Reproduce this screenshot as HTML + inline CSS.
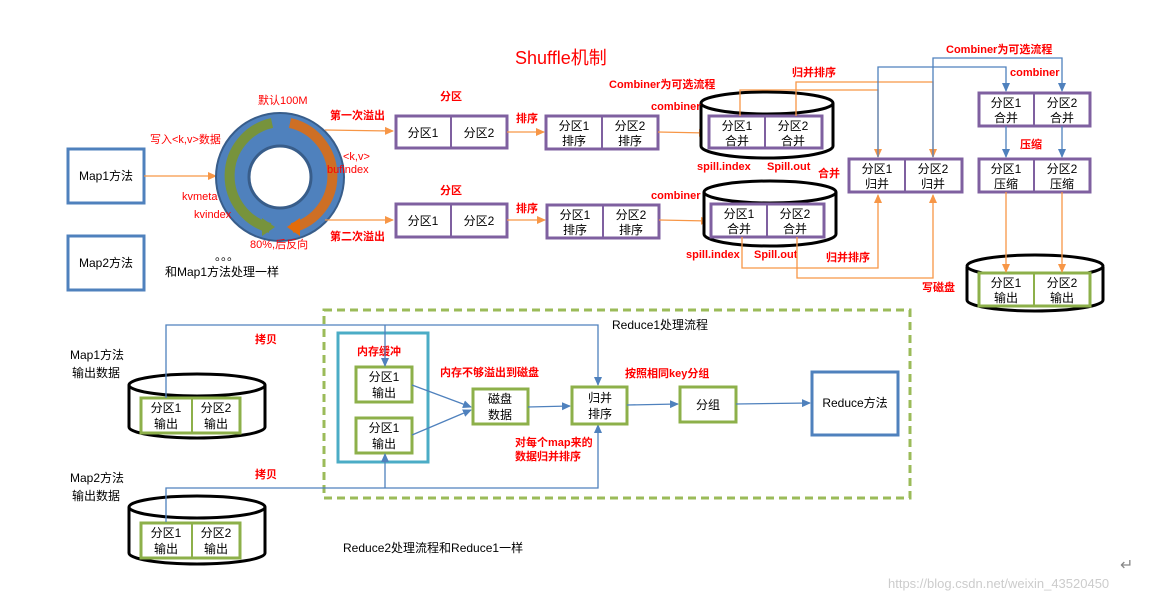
<!DOCTYPE html>
<html><head><meta charset="utf-8"><style>
body{margin:0;background:#fff;}
svg{display:block;font-family:"Liberation Sans","Noto Sans CJK SC",sans-serif;}
.r{fill:#f00;font-weight:bold;font-size:11px;}
.rn{fill:#f00;font-size:11px;}
.t{fill:#000;font-size:12px;}
.pb{fill:#fff;stroke:#7f60a0;stroke-width:3;}
.gb{fill:#fff;stroke:#8db04a;stroke-width:3;}
.o{stroke:#f79646;stroke-width:1.3;fill:none;}
.b{stroke:#4f81bd;stroke-width:1.3;fill:none;}
</style></head><body>
<svg width="1169" height="602" viewBox="0 0 1169 602">
<defs>
<marker id="ao" markerWidth="10" markerHeight="10" refX="8" refY="5" orient="auto" markerUnits="userSpaceOnUse"><path d="M0,1 L9,5 L0,9z" fill="#f79646"/></marker>
<marker id="ab" markerWidth="10" markerHeight="10" refX="8" refY="5" orient="auto" markerUnits="userSpaceOnUse"><path d="M0,1 L9,5 L0,9z" fill="#4f81bd"/></marker>
</defs>
<text x="515" y="64" fill="#f00" font-size="18">Shuffle机制</text>
<!-- maps -->
<rect x="68" y="149" width="76" height="54" fill="#fff" stroke="#4f81bd" stroke-width="3"/>
<text x="106" y="180" class="t" text-anchor="middle" font-size="11">Map1方法</text>
<rect x="68" y="236" width="76" height="54" fill="#fff" stroke="#4f81bd" stroke-width="3"/>
<text x="106" y="267" class="t" text-anchor="middle" font-size="11">Map2方法</text>
<line x1="144" y1="176" x2="216" y2="176" class="o" marker-end="url(#ao)"/>
<text x="150" y="143" class="rn">写入&lt;k,v&gt;数据</text>
<!-- ring -->
<circle cx="280" cy="177" r="64" fill="#4f81bd" stroke="#385d8a" stroke-width="2"/>
<circle cx="280" cy="177" r="31" fill="#fff" stroke="#385d8a" stroke-width="3"/>
<path d="M272,123 A54,54 0 0 0 270,228" stroke="#77933c" stroke-width="10" fill="none"/>
<path d="M262,218 L275,227 L262,236z" fill="#77933c"/>
<path d="M290,123 A54,54 0 0 1 292,228" stroke="#e46c0a" stroke-width="10" fill="none" opacity="0.85"/>
<path d="M300,218 L287,227 L300,236z" fill="#e46c0a"/>
<text x="258" y="104" class="rn">默认100M</text>
<text x="182" y="200" class="rn">kvmeta</text>
<text x="194" y="218" class="rn">kvindex</text>
<text x="343" y="160" class="rn" font-size="9">&lt;k,v&gt;</text>
<text x="327" y="173" class="rn">bufindex</text>
<text x="250" y="248" class="rn">80%,后反向</text>
<text x="215" y="260" class="t">。。。</text>
<text x="165" y="276" class="t">和Map1方法处理一样</text>
<!-- spills -->
<line x1="325" y1="130" x2="393" y2="131" class="o" marker-end="url(#ao)"/>
<line x1="325" y1="220" x2="393" y2="220" class="o" marker-end="url(#ao)"/>
<text x="330" y="119" class="r">第一次溢出</text>
<text x="330" y="240" class="r">第二次溢出</text>
<text x="440" y="100" class="r">分区</text>
<text x="440" y="194" class="r">分区</text>
<rect x="396" y="116" width="111" height="32" class="pb"/><line x1="451" y1="116" x2="451" y2="148" stroke="#7f60a0" stroke-width="2"/>
<text x="423" y="137" class="t" text-anchor="middle">分区1</text><text x="479" y="137" class="t" text-anchor="middle">分区2</text>
<rect x="396" y="204" width="111" height="33" class="pb"/><line x1="451" y1="204" x2="451" y2="237" stroke="#7f60a0" stroke-width="2"/>
<text x="423" y="225" class="t" text-anchor="middle">分区1</text><text x="479" y="225" class="t" text-anchor="middle">分区2</text>
<line x1="507" y1="132" x2="544" y2="132" class="o" marker-end="url(#ao)"/>
<line x1="507" y1="220" x2="545" y2="220" class="o" marker-end="url(#ao)"/>
<text x="516" y="122" class="r">排序</text><text x="516" y="212" class="r">排序</text>
<rect x="546" y="116" width="112" height="33" class="pb"/><line x1="602" y1="116" x2="602" y2="149" stroke="#7f60a0" stroke-width="2"/>
<text x="574" y="130" class="t" text-anchor="middle">分区1</text><text x="574" y="145" class="t" text-anchor="middle">排序</text>
<text x="630" y="130" class="t" text-anchor="middle">分区2</text><text x="630" y="145" class="t" text-anchor="middle">排序</text>
<rect x="547" y="205" width="112" height="33" class="pb"/><line x1="603" y1="205" x2="603" y2="238" stroke="#7f60a0" stroke-width="2"/>
<text x="575" y="219" class="t" text-anchor="middle">分区1</text><text x="575" y="234" class="t" text-anchor="middle">排序</text>
<text x="631" y="219" class="t" text-anchor="middle">分区2</text><text x="631" y="234" class="t" text-anchor="middle">排序</text>
<line x1="658" y1="132" x2="707" y2="133" class="o" marker-end="url(#ao)"/>
<line x1="659" y1="220" x2="709" y2="221" class="o" marker-end="url(#ao)"/>
<!-- cylinders top -->
<path d="M701,103 L701,146 A66,12 0 0 0 833,146 L833,103" fill="#fff" stroke="#000" stroke-width="3"/>
<ellipse cx="767" cy="103" rx="66" ry="11" fill="#fff" stroke="#000" stroke-width="3"/>
<rect x="709" y="116" width="113" height="32" class="pb"/><line x1="765" y1="116" x2="765" y2="148" stroke="#7f60a0" stroke-width="2"/>
<text x="737" y="130" class="t" text-anchor="middle">分区1</text><text x="737" y="145" class="t" text-anchor="middle">合并</text>
<text x="793" y="130" class="t" text-anchor="middle">分区2</text><text x="793" y="145" class="t" text-anchor="middle">合并</text>
<path d="M704,192 L704,234 A66,12 0 0 0 836,234 L836,192" fill="#fff" stroke="#000" stroke-width="3"/>
<ellipse cx="770" cy="192" rx="66" ry="11" fill="#fff" stroke="#000" stroke-width="3"/>
<rect x="711" y="204" width="113" height="33" class="pb"/><line x1="767" y1="204" x2="767" y2="237" stroke="#7f60a0" stroke-width="2"/>
<text x="739" y="218" class="t" text-anchor="middle">分区1</text><text x="739" y="233" class="t" text-anchor="middle">合并</text>
<text x="795" y="218" class="t" text-anchor="middle">分区2</text><text x="795" y="233" class="t" text-anchor="middle">合并</text>
<text x="609" y="88" class="r">Combiner为可选流程</text>
<text x="651" y="110" class="r">combiner</text>
<text x="651" y="199" class="r">combiner</text>
<text x="697" y="170" class="r">spill.index</text><text x="767" y="170" class="r">Spill.out</text>
<text x="686" y="258" class="r">spill.index</text><text x="754" y="258" class="r">Spill.out</text>
<text x="818" y="177" class="r">合并</text>
<text x="826" y="261" class="r">归并排序</text>
<text x="792" y="76" class="r">归并排序</text>
<!-- orange connectors -->
<path d="M740,116 L740,90 L878,90 L878,157" class="o" marker-end="url(#ao)"/>
<path d="M796,116 L796,82 L933,82 L933,157" class="o" marker-end="url(#ao)"/>
<path d="M742,237 L742,268 L878,268 L878,195" class="o" marker-end="url(#ao)"/>
<path d="M797,237 L797,278 L933,278 L933,195" class="o" marker-end="url(#ao)"/>
<!-- blue connectors -->
<path d="M878,157 L878,67 L1006,67 L1006,91" class="b" marker-end="url(#ab)"/>
<path d="M933,157 L933,58 L1062,58 L1062,91" class="b" marker-end="url(#ab)"/>
<text x="946" y="53" class="r">Combiner为可选流程</text>
<text x="1010" y="76" class="r">combiner</text>
<!-- merge boxes -->
<rect x="849" y="159" width="113" height="33" class="pb"/><line x1="905" y1="159" x2="905" y2="192" stroke="#7f60a0" stroke-width="2"/>
<text x="877" y="173" class="t" text-anchor="middle">分区1</text><text x="877" y="188" class="t" text-anchor="middle">归并</text>
<text x="933" y="173" class="t" text-anchor="middle">分区2</text><text x="933" y="188" class="t" text-anchor="middle">归并</text>
<rect x="979" y="93" width="111" height="33" class="pb"/><line x1="1034" y1="93" x2="1034" y2="126" stroke="#7f60a0" stroke-width="2"/>
<text x="1006" y="107" class="t" text-anchor="middle">分区1</text><text x="1006" y="122" class="t" text-anchor="middle">合并</text>
<text x="1062" y="107" class="t" text-anchor="middle">分区2</text><text x="1062" y="122" class="t" text-anchor="middle">合并</text>
<line x1="1006" y1="126" x2="1006" y2="157" class="b" marker-end="url(#ab)"/>
<line x1="1062" y1="126" x2="1062" y2="157" class="b" marker-end="url(#ab)"/>
<text x="1020" y="148" class="r">压缩</text>
<rect x="979" y="159" width="111" height="33" class="pb"/><line x1="1034" y1="159" x2="1034" y2="192" stroke="#7f60a0" stroke-width="2"/>
<text x="1006" y="173" class="t" text-anchor="middle">分区1</text><text x="1006" y="188" class="t" text-anchor="middle">压缩</text>
<text x="1062" y="173" class="t" text-anchor="middle">分区2</text><text x="1062" y="188" class="t" text-anchor="middle">压缩</text>
<path d="M967,267 L967,300 A68,11 0 0 0 1103,300 L1103,267" fill="#fff" stroke="#000" stroke-width="3"/>
<ellipse cx="1035" cy="266" rx="68" ry="11" fill="#fff" stroke="#000" stroke-width="3"/>
<rect x="979" y="273" width="111" height="33" class="gb"/><line x1="1034" y1="273" x2="1034" y2="306" stroke="#8db04a" stroke-width="2"/>
<text x="1006" y="287" class="t" text-anchor="middle">分区1</text><text x="1006" y="302" class="t" text-anchor="middle">输出</text>
<text x="1062" y="287" class="t" text-anchor="middle">分区2</text><text x="1062" y="302" class="t" text-anchor="middle">输出</text>
<line x1="1006" y1="192" x2="1006" y2="272" class="o" marker-end="url(#ao)"/>
<line x1="1062" y1="192" x2="1062" y2="272" class="o" marker-end="url(#ao)"/>
<text x="922" y="291" class="r">写磁盘</text>
<!-- bottom -->
<rect x="324" y="310" width="586" height="188" fill="none" stroke="#9bbb59" stroke-width="3" stroke-dasharray="8,5"/>
<text x="612" y="329" class="t">Reduce1处理流程</text>
<text x="70" y="359" class="t">Map1方法</text><text x="72" y="377" class="t">输出数据</text>
<text x="70" y="482" class="t">Map2方法</text><text x="72" y="500" class="t">输出数据</text>
<path d="M129,385 L129,427 A68,11 0 0 0 265,427 L265,385" fill="#fff" stroke="#000" stroke-width="3"/>
<ellipse cx="197" cy="385" rx="68" ry="11" fill="#fff" stroke="#000" stroke-width="3"/>
<rect x="141" y="398" width="99" height="35" class="gb"/><line x1="192" y1="398" x2="192" y2="433" stroke="#8db04a" stroke-width="2"/>
<text x="166" y="412" class="t" text-anchor="middle">分区1</text><text x="166" y="428" class="t" text-anchor="middle">输出</text>
<text x="216" y="412" class="t" text-anchor="middle">分区2</text><text x="216" y="428" class="t" text-anchor="middle">输出</text>
<path d="M129,507 L129,553 A68,11 0 0 0 265,553 L265,507" fill="#fff" stroke="#000" stroke-width="3"/>
<ellipse cx="197" cy="507" rx="68" ry="11" fill="#fff" stroke="#000" stroke-width="3"/>
<rect x="141" y="523" width="99" height="35" class="gb"/><line x1="192" y1="523" x2="192" y2="558" stroke="#8db04a" stroke-width="2"/>
<text x="166" y="537" class="t" text-anchor="middle">分区1</text><text x="166" y="553" class="t" text-anchor="middle">输出</text>
<text x="216" y="537" class="t" text-anchor="middle">分区2</text><text x="216" y="553" class="t" text-anchor="middle">输出</text>
<text x="255" y="343" class="r">拷贝</text><text x="255" y="478" class="r">拷贝</text>
<rect x="338" y="333" width="90" height="129" fill="none" stroke="#4bacc6" stroke-width="3"/>
<text x="357" y="355" class="r">内存缓冲</text>
<rect x="356" y="367" width="56" height="35" class="gb"/>
<text x="384" y="381" class="t" text-anchor="middle">分区1</text><text x="384" y="397" class="t" text-anchor="middle">输出</text>
<rect x="356" y="418" width="56" height="35" class="gb"/>
<text x="384" y="432" class="t" text-anchor="middle">分区1</text><text x="384" y="448" class="t" text-anchor="middle">输出</text>
<path d="M166,398 L166,325 L598,325 L598,385" class="b" marker-end="url(#ab)"/>
<line x1="385" y1="325" x2="385" y2="366" class="b" marker-end="url(#ab)"/>
<path d="M166,522 L166,488 L598,488 L598,425" class="b" marker-end="url(#ab)"/>
<line x1="385" y1="488" x2="385" y2="454" class="b" marker-end="url(#ab)"/>
<text x="440" y="376" class="r">内存不够溢出到磁盘</text>
<line x1="412" y1="385" x2="471" y2="407" class="b" marker-end="url(#ab)"/>
<line x1="412" y1="435" x2="471" y2="410" class="b" marker-end="url(#ab)"/>
<rect x="473" y="389" width="55" height="35" class="gb"/>
<text x="500" y="403" class="t" text-anchor="middle">磁盘</text><text x="500" y="419" class="t" text-anchor="middle">数据</text>
<line x1="528" y1="407" x2="570" y2="406" class="b" marker-end="url(#ab)"/>
<rect x="572" y="387" width="55" height="37" class="gb"/>
<text x="600" y="402" class="t" text-anchor="middle">归并</text><text x="600" y="418" class="t" text-anchor="middle">排序</text>
<line x1="627" y1="405" x2="678" y2="404" class="b" marker-end="url(#ab)"/>
<text x="625" y="377" class="r">按照相同key分组</text>
<text x="515" y="446" class="r">对每个map来的</text><text x="515" y="460" class="r">数据归并排序</text>
<rect x="680" y="387" width="56" height="35" class="gb"/>
<text x="708" y="409" class="t" text-anchor="middle">分组</text>
<line x1="736" y1="404" x2="810" y2="403" class="b" marker-end="url(#ab)"/>
<rect x="812" y="372" width="86" height="63" fill="#fff" stroke="#4f81bd" stroke-width="3"/>
<text x="855" y="407" class="t" text-anchor="middle" font-size="10">Reduce方法</text>
<text x="343" y="552" class="t">Reduce2处理流程和Reduce1一样</text>
<text x="1120" y="570" fill="#888" font-size="16">↵</text>
<text x="888" y="588" fill="#ccc" font-size="13">https://blog.csdn.net/weixin_43520450</text>
</svg>
</body></html>
